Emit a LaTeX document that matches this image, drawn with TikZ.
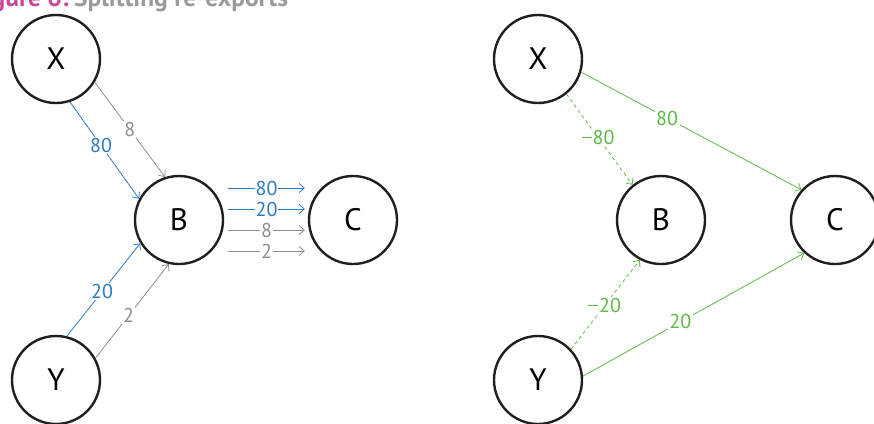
\documentclass[tikz,border=0pt]{standalone}
\usepackage{fontspec}
\setmainfont{PT Sans}
\usetikzlibrary{arrows.meta}
\definecolor{flowblue}{HTML}{2A7BC4}
\definecolor{flowgray}{HTML}{8E8E8E}
\definecolor{flowgreen}{HTML}{5DBB46}
\definecolor{titlemag}{HTML}{C9479B}
\definecolor{titlegray}{HTML}{9A9A9A}
% minus sign as wide as a digit, set at mid digit height
\newcommand{\negsign}{\rule[0.33em]{0.5em}{0.06em}\kern0.04em}
\begin{document}
\begin{tikzpicture}[x=1pt,y=-1pt,
  party/.style={circle,draw=black!88,line width=2.4pt,minimum size=88pt,inner sep=0pt,
    font=\fontsize{31}{31}\selectfont},
  flow/.style={line width=0.8pt,-{Straight Barb[length=5pt,width=9pt]}},
  dashflow/.style={flow,dash pattern=on 3.5pt off 3pt},
  lab/.style={fill=white,inner sep=1.5pt,font=\fontsize{20}{20}\selectfont},
  hlab/.style={fill=white,inner xsep=1pt,inner ysep=0pt,font=\fontsize{20}{20}\selectfont},
  ttl/.style={inner sep=0pt,font=\bfseries\fontsize{25.5}{25.5}\selectfont}]
\useasboundingbox (0,0) rectangle (874,423);

% heading, clipped by the page edge
\node[ttl,text=titlemag,anchor=base east] (tnum) at (69,6) {Figure 6:};
\node[ttl,text=titlegray,anchor=base west] (ttext) at (74,6) {Splitting re-exports};

% left diagram: flows routed through B
\node[party] (X)  at (56,59)  {X};
\node[party] (Y)  at (56,380) {Y};
\node[party] (B)  at (179,220) {B};
\node[party] (C)  at (353,220) {C};

\draw[flow,flowblue] (X.-72) -- node[lab,pos=0.45,text=flowblue] (l80) {80} (B.152);
\draw[flow,flowgray] (X.-31) -- node[lab,pos=0.5,text=flowgray] (l8) {8} (B.108);
\draw[flow,flowblue] (Y.76) -- node[lab,pos=0.48,text=flowblue] (l20) {20} (B.211);
\draw[flow,flowgray] (Y.29) -- node[lab,pos=0.45,text=flowgray] (l2) {2} (B.257);

% parallel flows B -> C (yshift is in page units, upward positive)
\coordinate (b1) at ([xshift=4pt,yshift=32pt]B.east);
\coordinate (c1) at ([xshift=-3pt,yshift=32pt]C.west);
\coordinate (b2) at ([xshift=4pt,yshift=11pt]B.east);
\coordinate (c2) at ([xshift=-3pt,yshift=11pt]C.west);
\coordinate (b3) at ([xshift=4pt,yshift=-10pt]B.east);
\coordinate (c3) at ([xshift=-3pt,yshift=-10pt]C.west);
\coordinate (b4) at ([xshift=4pt,yshift=-31pt]B.east);
\coordinate (c4) at ([xshift=-3pt,yshift=-31pt]C.west);
\draw[flow,flowblue] (b1) -- node[hlab,text=flowblue] (h80) {80} (c1);
\draw[flow,flowblue] (b2) -- node[hlab,text=flowblue] (h20) {20} (c2);
\draw[flow,flowgray] (b3) -- node[hlab,text=flowgray] (h8) {8} (c3);
\draw[flow,flowgray] (b4) -- node[hlab,text=flowgray] (h2) {2} (c4);

% right diagram: direct flows with negative corrections
\node[party] (X2) at (538,59)  {X};
\node[party] (Y2) at (538,380) {Y};
\node[party] (B2) at (661,220) {B};
\node[party] (C2) at (835,220) {C};

\draw[dashflow,flowgreen] (X2.-51) -- node[lab,pos=0.48,text=flowgreen] (m80) {\negsign80} (B2.129);
\draw[flow,flowgreen] (X2.-17) -- node[lab,pos=0.39,text=flowgreen] (p80) {80} (C2.138);
\draw[dashflow,flowgreen] (Y2.43) -- node[lab,pos=0.49,text=flowgreen] (m20) {\negsign20} (B2.242);
\draw[flow,flowgreen] (Y2.5) -- node[lab,pos=0.44,text=flowgreen] (p20) {20} (C2.227);
\end{tikzpicture}
\end{document}
